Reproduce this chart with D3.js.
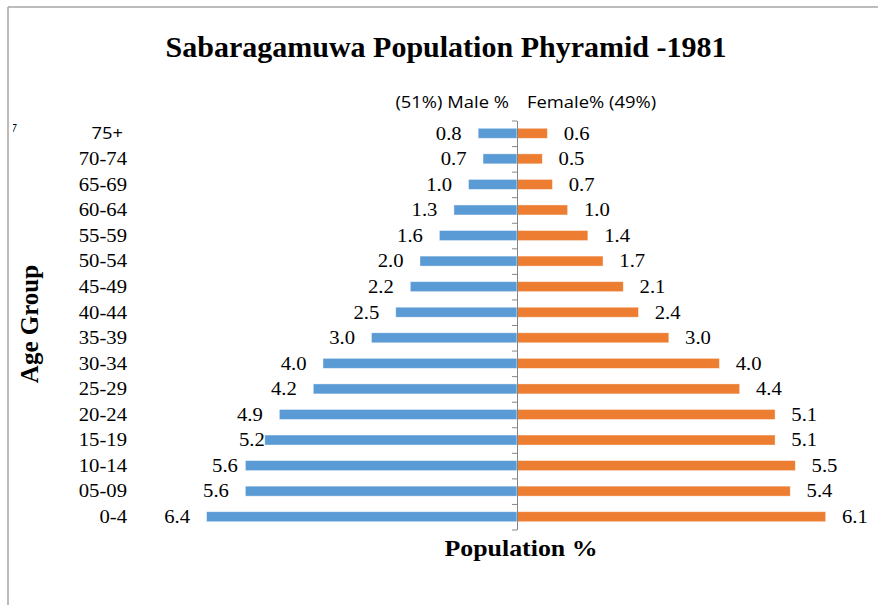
<!DOCTYPE html>
<html>
<head>
<meta charset="utf-8">
<script src="https://cdn.jsdelivr.net/npm/d3@7"></script>
<style>
  html, body { margin: 0; padding: 0; background: #fff; }
  svg { display: block; }
</style>
</head>
<body>
<svg id="chart" width="878" height="605"></svg>
<script>
// ---- data (top to bottom as drawn) ----
const ageGroups = ["75+", "70-74", "65-69", "60-64", "55-59", "50-54", "45-49", "40-44",
                   "35-39", "30-34", "25-29", "20-24", "15-19", "10-14", "05-09", "0-4"];
const malePct   = [0.8, 0.7, 1.0, 1.3, 1.6, 2.0, 2.2, 2.5, 3.0, 4.0, 4.2, 4.9, 5.2, 5.6, 5.6, 6.4];
const femalePct = [0.6, 0.5, 0.7, 1.0, 1.4, 1.7, 2.1, 2.4, 3.0, 4.0, 4.4, 5.1, 5.1, 5.5, 5.4, 6.1];
const titleText = "Sabaragamuwa Population Phyramid -1981";
const maleLegend = "(51%) Male %";
const femaleLegend = "Female% (49%)";
const xTitle = "Population %";
const yTitle = "Age Group";

// manual label nudges (as in the original, some male labels were moved toward the bar)
const maleLabelNudge = { "15-19": 16.5, "10-14": 9 };

// ---- layout ----
const svg = d3.select("#chart");
const axisX = 517;
const STRETCH = 1.15;
const serif = "'Liberation Serif', 'Times New Roman', serif";
const sans = "'Open Sans', 'Liberation Sans', sans-serif";

const y = d3.scaleBand().domain(ageGroups).range([120.5, 529.5])
  .paddingInner(0.61).paddingOuter(0.305);
const xMale = d3.scaleLinear().domain([0, 7]).range([axisX, axisX - 7 * 48.5]);
const xFemale = d3.scaleLinear().domain([0, 7]).range([axisX, axisX + 7 * 50.6]);

// frame lines
svg.append("line").attr("x1", 8).attr("x2", 8).attr("y1", 7).attr("y2", 605)
  .attr("stroke", "#a6a6a6").attr("stroke-width", 1.5);
svg.append("line").attr("x1", 8).attr("x2", 878).attr("y1", 7).attr("y2", 7)
  .attr("stroke", "#a6a6a6").attr("stroke-width", 1.5);

// helper: horizontally stretched text
function stext(g, x, yy, txt, opts) {
  const t = g.append("text")
    .attr("transform", `translate(${x},${yy}) scale(${opts.sx || STRETCH},1)`)
    .attr("text-anchor", opts.anchor || "start")
    .attr("font-family", opts.family || serif)
    .attr("font-size", opts.size || 18)
    .attr("font-weight", opts.weight || "normal")
    .attr("fill", opts.fill || "#000")
    .text(txt);
  if (opts.dy) t.attr("dy", opts.dy);
  return t;
}

// clipped fragment at left edge
svg.append("clipPath").attr("id", "edgeClip").append("rect")
  .attr("x", 13).attr("y", 118).attr("width", 20).attr("height", 14);
svg.append("g").attr("clip-path", "url(#edgeClip)")
  .append("text").attr("x", 10).attr("y", 134).attr("font-family", serif)
  .attr("font-size", 14).attr("fill", "#000").text("7");

// title
stext(svg, 446, 57, titleText, { anchor: "middle", size: 30, weight: "bold", sx: 1 });

// series legend labels
stext(svg, 509, 108, maleLegend, { anchor: "end", size: 16, family: sans, fill: "#000" });
stext(svg, 527, 108, femaleLegend, { anchor: "start", size: 16, family: sans, fill: "#000" });

// bars
const rows = ageGroups.map((g, i) => ({ g, m: malePct[i], f: femalePct[i] }));
const bars = svg.append("g");
bars.selectAll("rect.m").data(rows).join("rect").attr("class", "m")
  .attr("x", d => xMale(d.m)).attr("width", d => xMale(0) - xMale(d.m))
  .attr("y", d => y(d.g)).attr("height", y.bandwidth())
  .attr("fill", "#5B9BD5").attr("stroke", "#ffffff").attr("stroke-opacity", 0.5).attr("stroke-width", 0.75);
bars.selectAll("rect.f").data(rows).join("rect").attr("class", "f")
  .attr("x", xFemale(0)).attr("width", d => xFemale(d.f) - xFemale(0))
  .attr("y", d => y(d.g)).attr("height", y.bandwidth())
  .attr("fill", "#ED7D31").attr("stroke", "#ffffff").attr("stroke-opacity", 0.5).attr("stroke-width", 0.75);

// center axis with ticks at category boundaries
const idx = d3.scaleLinear().domain([0, ageGroups.length]).range(y.range());
const axisG = svg.append("g").attr("transform", `translate(${axisX},0)`)
  .call(d3.axisLeft(idx).tickValues(d3.range(0, ageGroups.length + 1))
    .tickSize(5).tickSizeOuter(0).tickFormat(""));
axisG.selectAll("path, line").attr("stroke", "#868686").attr("stroke-width", 1);

// category labels
const labG = svg.append("g");
rows.forEach(d => {
  const cy = y(d.g) + y.bandwidth() / 2;
  if (d.g === "75+") {
    stext(labG, 123, cy, d.g, { anchor: "end", size: 16, family: sans, dy: "0.36em" });
  } else {
    stext(labG, 127, cy, d.g, { anchor: "end", size: 18, dy: "0.35em" });
  }
});

// data labels
const dl = svg.append("g");
rows.forEach(d => {
  const cy = y(d.g) + y.bandwidth() / 2;
  const nudge = maleLabelNudge[d.g] || 0;
  stext(dl, xMale(d.m) - 16.5 + nudge, cy, d.m.toFixed(1), { anchor: "end", size: 18, dy: "0.35em" });
  stext(dl, xFemale(d.f) + 16.3, cy, d.f.toFixed(1), { anchor: "start", size: 18, dy: "0.35em" });
});

// axis titles
stext(svg, 521, 556, xTitle, { anchor: "middle", size: 22.5, weight: "bold" });
svg.append("text")
  .attr("transform", `translate(38,324) rotate(-90)`)
  .attr("text-anchor", "middle")
  .attr("font-family", serif).attr("font-size", 25).attr("font-weight", "bold")
  .attr("fill", "#000").text(yTitle);
</script>
</body>
</html>
